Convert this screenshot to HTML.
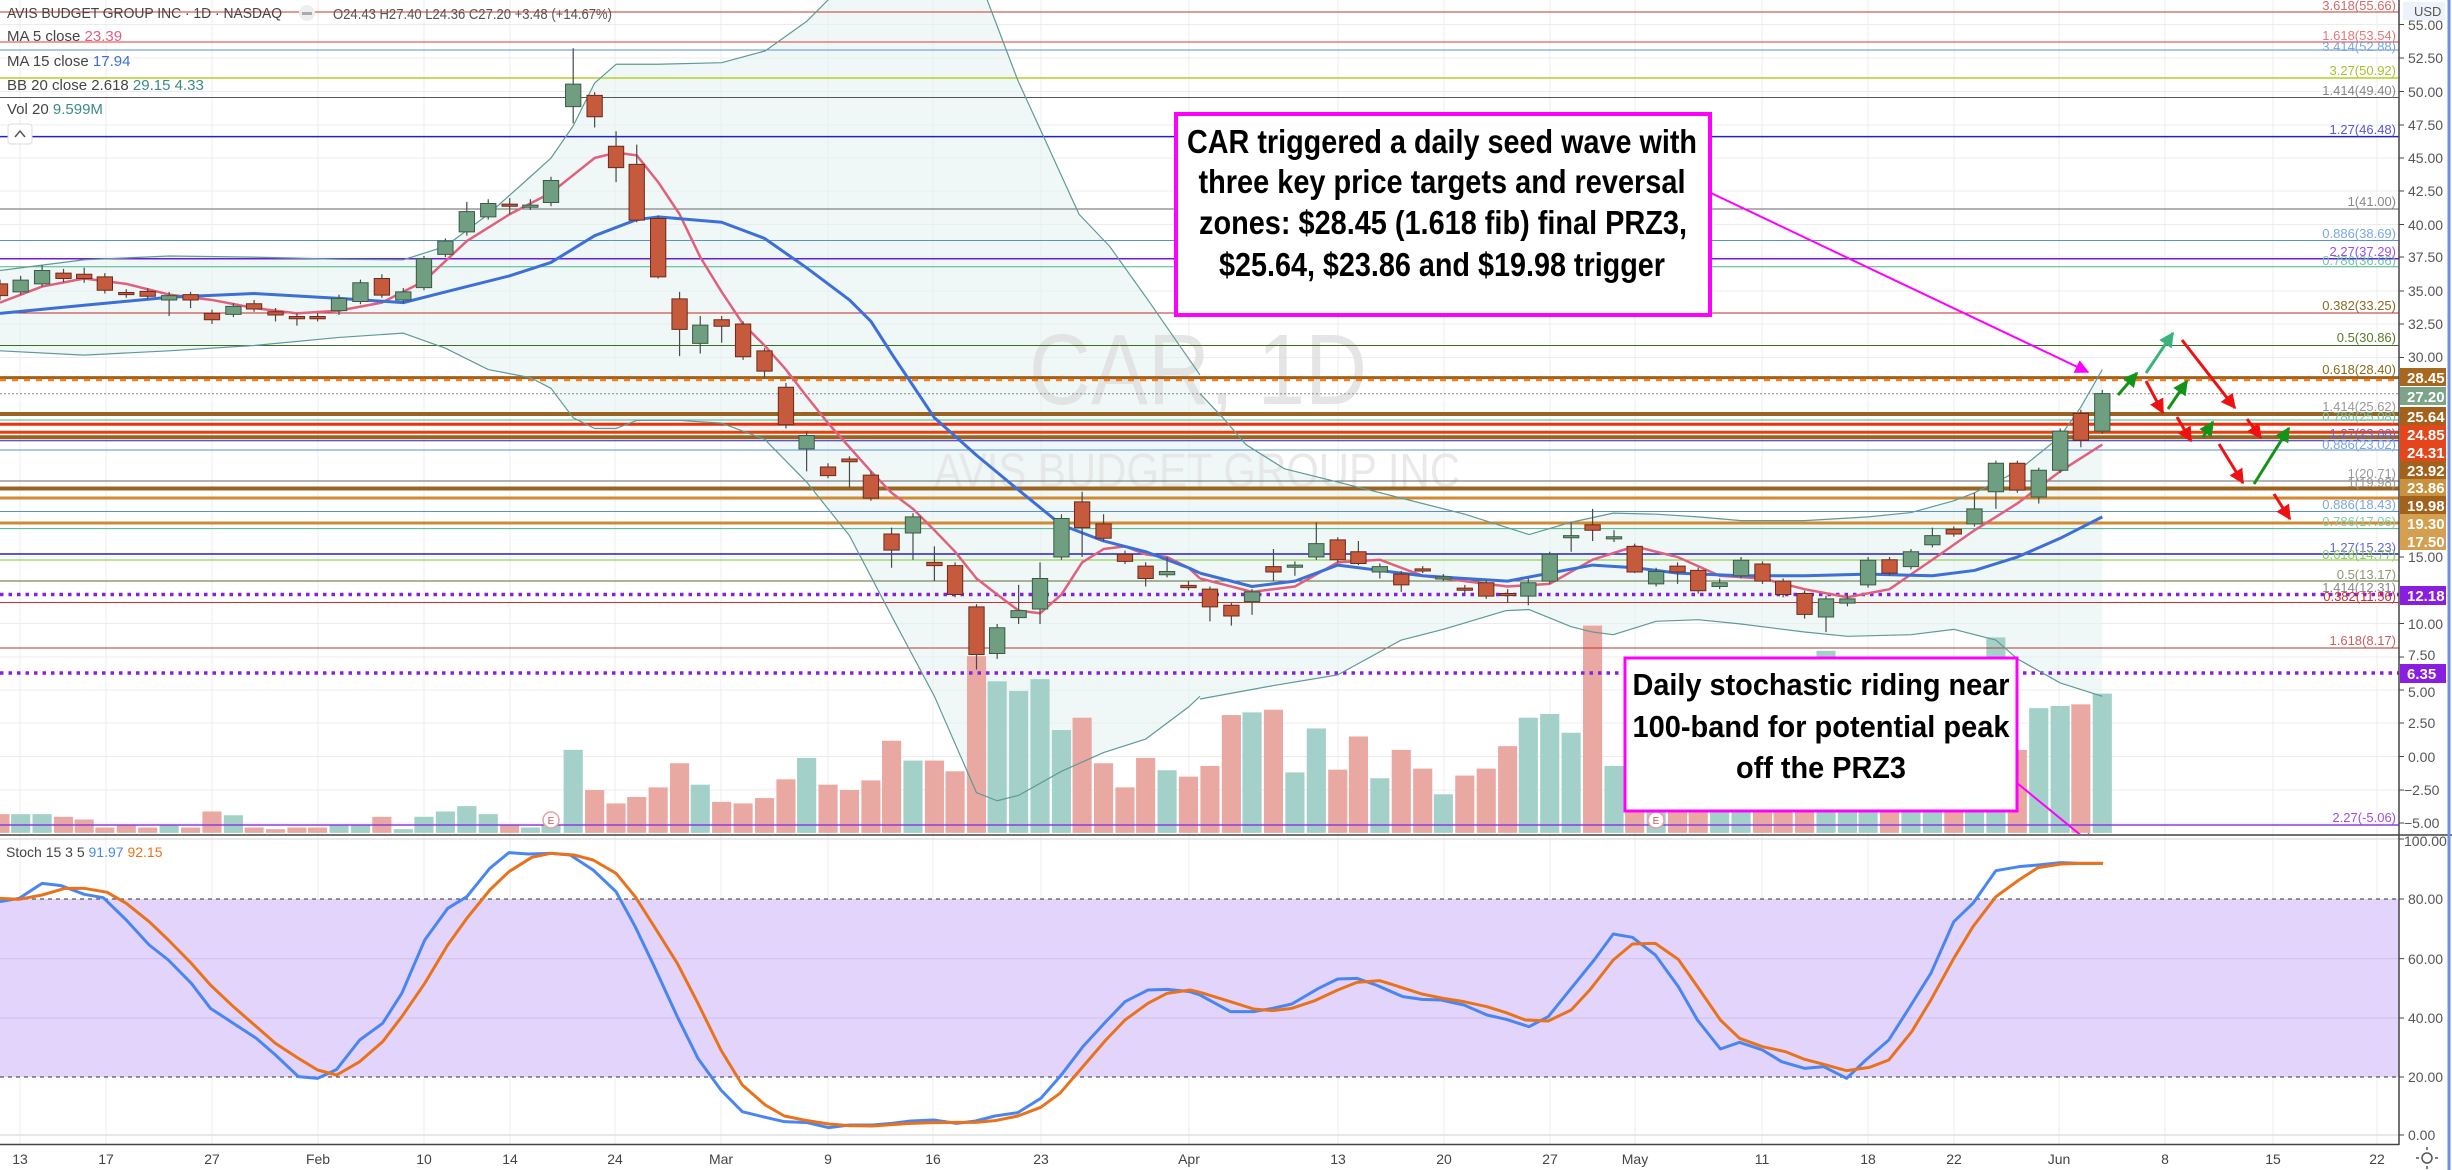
<!DOCTYPE html>
<html><head><meta charset="utf-8"><style>
html,body{margin:0;padding:0;background:#fff;}
svg{display:block;}
.ns *{vector-effect:non-scaling-stroke;}
text{font-family:"Liberation Sans",sans-serif;}
</style></head><body>
<svg width="2452" height="1170" viewBox="0 0 2452 1170" xmlns="http://www.w3.org/2000/svg">
<defs>
<clipPath id="pp"><rect x="0" y="0" width="2399" height="834"/></clipPath>
<clipPath id="sp"><rect x="0" y="836" width="2399" height="308"/></clipPath>
<marker id="mg" viewBox="0 0 10 10" refX="9" refY="5" markerWidth="5" markerHeight="5" orient="auto"><path d="M0,0L10,5L0,10z" fill="#139418"/></marker>
<marker id="ms" viewBox="0 0 10 10" refX="9" refY="5" markerWidth="5" markerHeight="5" orient="auto"><path d="M0,0L10,5L0,10z" fill="#3bb37a"/></marker>
<marker id="mr" viewBox="0 0 10 10" refX="9" refY="5" markerWidth="5" markerHeight="5" orient="auto"><path d="M0,0L10,5L0,10z" fill="#ee1111"/></marker>
<marker id="mm" viewBox="0 0 10 10" refX="9" refY="5" markerWidth="7" markerHeight="7" orient="auto"><path d="M0,0L10,5L0,10z" fill="#ff00ff"/></marker>
</defs>
<rect width="2452" height="1170" fill="#fff"/>

<g stroke="#ececec" stroke-width="1">
<path d="M20 0V1144M106 0V1144M212 0V1144M318 0V1144M424 0V1144M510 0V1144M615 0V1144M721 0V1144M828 0V1144M933 0V1144M1041 0V1144M1189 0V1144M1338 0V1144M1444 0V1144M1550 0V1144M1635 0V1144M1762 0V1144M1868 0V1144M1954 0V1144M2059 0V1144M2165 0V1144M2273 0V1144M2377 0V1144"/>
<path d="M0 24.5H2399M0 58H2399M0 91.5H2399M0 125H2399M0 158H2399M0 191H2399M0 224.5H2399M0 257H2399M0 291H2399M0 324H2399M0 357.5H2399M0 557H2399M0 623.5H2399M0 657H2399M0 690H2399M0 723H2399M0 756.5H2399M0 790H2399M0 823H2399"/>
</g>

<g clip-path="url(#sp)">
<rect x="0" y="899" width="2399" height="178" fill="#e3d4fb"/>
<path d="M0 958.6H2399M0 1018H2399" stroke="#d4c4ee" stroke-width="1.2"/>
<path d="M0 899H2399M0 1077H2399" stroke="#555" stroke-width="1.2" stroke-dasharray="4,4"/>
<path d="M0 1135H2399M0 839H2399" stroke="#e0e0e0" stroke-width="1.5"/>
<g class="ns" fill="none" stroke-linejoin="round">
<g transform="translate(0,830) scale(0.76529,0.33333)">
<polyline stroke="#4a86f0" stroke-width="3" points="0,215 25,205 55,160 80,167 110,193 135,203 165,270 195,345 220,390 250,460 275,535 305,580 335,625 360,675 390,740 415,745 440,718 470,630 500,580 525,490 555,330 585,235 610,200 640,115 665,68 690,72 720,70 745,75 775,120 805,185 830,290 855,410 885,560 912,685 942,780 970,845 1000,862 1025,875 1055,878 1083,893 1110,885 1140,885 1165,880 1190,873 1220,870 1250,880 1275,873 1300,858 1330,848 1360,805 1385,740 1415,650 1445,575 1470,515 1500,480 1525,478 1555,485 1568,495"/>
<polyline stroke="#e8731c" stroke-width="3" points="0,205 25,208 55,195 85,175 110,175 140,187 165,220 195,275 220,330 250,400 275,465 305,530 335,590 360,640 390,685 415,720 440,735 470,695 500,635 525,560 555,460 585,345 610,265 640,180 665,125 695,82 720,70 750,75 775,90 805,130 830,200 855,290 885,400 912,520 942,660 970,765 1000,825 1025,858 1055,872 1083,882 1110,887 1140,888 1165,884 1190,880 1220,878 1250,877 1275,877 1300,872 1330,858 1360,832 1385,790 1415,710 1445,630 1470,570 1500,520 1525,490 1555,480 1568,487"/>
</g>
<g transform="translate(1200,830) scale(0.76529,0.33333)">
<polyline stroke="#4a86f0" stroke-width="3" points="0,495 40,545 70,545 95,535 120,522 155,475 180,447 205,445 230,465 265,500 290,508 315,510 345,525 375,555 400,568 430,590 455,560 485,475 515,390 540,312 565,322 595,375 625,470 650,570 680,657 705,637 735,660 760,695 790,715 815,710 845,745 870,690 900,630 925,540 955,430 985,275 1010,220 1040,122 1070,110 1095,105 1125,98 1150,100 1180,100"/>
<polyline stroke="#e8731c" stroke-width="3" points="0,487 40,515 70,537 95,542 120,535 150,512 180,480 205,457 235,452 260,470 290,492 320,506 345,515 375,530 400,548 425,570 455,573 485,540 510,478 540,390 565,342 595,340 625,388 650,470 680,570 705,625 735,650 765,665 790,688 815,703 845,722 875,712 900,690 930,605 955,510 985,385 1010,290 1040,200 1070,150 1095,113 1125,102 1150,100 1180,100"/>
</g>
</g>
</g>
<text x="6" y="857" font-size="14" fill="#444">Stoch 15 3 5 <tspan fill="#4a86f0">91.97</tspan> <tspan fill="#e8731c">92.15</tspan></text>

<g clip-path="url(#pp)">
<!-- BB fill -->
<g transform="scale(0.76529,0.53562)">
<polygon fill="#e6f3f1" fill-opacity="0.6" points="0,505 55,495 110,485 221,478 332,480 443,484 527,485 582,460 638,400 693,330 720,295 749,235 777,155 805,120 860,120 943,117 1000,95 1054,40 1082,0 1150,-80 1250,-80 1290,0 1330,150 1410,400 1450,460 1500,560 1568,700 1568,1300 1553,1320 1497,1380 1442,1405 1387,1440 1331,1485 1303,1495 1276,1480 1221,1300 1165,1150 1110,1000 1054,900 999,820 943,790 888,785 832,785 805,800 777,800 749,780 720,725 693,705 638,690 582,650 527,622 443,630 332,645 221,655 110,663 0,655"/>
</g>
<g transform="translate(1200,0) scale(0.76529,0.53562)">
<polygon fill="#e6f3f1" fill-opacity="0.6" points="0,735 30,780 60,830 110,875 180,900 263,930 346,960 430,998 485,975 540,958 596,960 651,965 707,972 790,972 873,965 929,957 985,935 1012,920 1068,880 1124,815 1151,760 1179,690 1179,1300 1124,1275 1068,1230 1040,1195 985,1175 929,1185 846,1188 790,1180 707,1165 651,1157 596,1160 540,1185 513,1180 485,1170 430,1138 400,1140 318,1175 263,1195 180,1260 96,1280 0,1305"/>
</g>
<!-- volume -->
<g transform="scale(0.76529,0.53562)">
<g fill="#a3d0c8">
<rect x="14.5" y="1520" width="25" height="35"/><rect x="42.5" y="1520" width="25" height="35"/><rect x="208.5" y="1540" width="25" height="15"/><rect x="292.5" y="1522" width="25" height="33"/><rect x="430.5" y="1540" width="25" height="15"/><rect x="458.5" y="1540" width="25" height="15"/><rect x="514.5" y="1548" width="25" height="7"/><rect x="541.5" y="1525" width="25" height="30"/><rect x="569.5" y="1515" width="25" height="40"/><rect x="597.5" y="1505" width="25" height="50"/><rect x="625.5" y="1520" width="25" height="35"/><rect x="680.5" y="1545" width="25" height="10"/><rect x="707.5" y="1540" width="25" height="15"/><rect x="736.5" y="1400" width="25" height="155"/><rect x="902.5" y="1465" width="25" height="90"/><rect x="1041.5" y="1415" width="25" height="140"/><rect x="1180.5" y="1420" width="25" height="135"/><rect x="1290.5" y="1272" width="25" height="283"/><rect x="1318.5" y="1290" width="25" height="265"/><rect x="1346.5" y="1268" width="25" height="287"/><rect x="1374.5" y="1363" width="25" height="192"/><rect x="1512.5" y="1438" width="25" height="117"/>
</g>
<g fill="#eaa8a3">
<rect x="-12.5" y="1520" width="25" height="35"/><rect x="70.5" y="1525" width="25" height="30"/><rect x="97.5" y="1530" width="25" height="25"/><rect x="124.5" y="1545" width="25" height="10"/><rect x="152.5" y="1540" width="25" height="15"/><rect x="180.5" y="1545" width="25" height="10"/><rect x="236.5" y="1545" width="25" height="10"/><rect x="264.5" y="1515" width="25" height="40"/><rect x="319.5" y="1545" width="25" height="10"/><rect x="347.5" y="1548" width="25" height="7"/><rect x="375.5" y="1545" width="25" height="10"/><rect x="402.5" y="1545" width="25" height="10"/><rect x="486.5" y="1525" width="25" height="30"/><rect x="653.5" y="1540" width="25" height="15"/><rect x="764.5" y="1475" width="25" height="80"/><rect x="792.5" y="1500" width="25" height="55"/><rect x="819.5" y="1488" width="25" height="67"/><rect x="847.5" y="1470" width="25" height="85"/><rect x="875.5" y="1425" width="25" height="130"/><rect x="930.5" y="1497" width="25" height="58"/><rect x="958.5" y="1500" width="25" height="55"/><rect x="986.5" y="1490" width="25" height="65"/><rect x="1014.5" y="1455" width="25" height="100"/><rect x="1069.5" y="1465" width="25" height="90"/><rect x="1097.5" y="1475" width="25" height="80"/><rect x="1125.5" y="1457" width="25" height="98"/><rect x="1152.5" y="1383" width="25" height="172"/><rect x="1208.5" y="1420" width="25" height="135"/><rect x="1235.5" y="1440" width="25" height="115"/><rect x="1263.5" y="1225" width="25" height="330"/><rect x="1401.5" y="1340" width="25" height="215"/><rect x="1429.5" y="1425" width="25" height="130"/><rect x="1457.5" y="1470" width="25" height="85"/><rect x="1484.5" y="1415" width="25" height="140"/><rect x="1540.5" y="1450" width="25" height="105"/>
</g>
</g>
<g transform="translate(1200,0) scale(0.76529,0.53562)">
<g fill="#a3d0c8">
<rect x="55.5" y="1330" width="25" height="225"/><rect x="111.5" y="1442" width="25" height="113"/><rect x="139.5" y="1360" width="25" height="195"/><rect x="222.5" y="1453" width="25" height="102"/><rect x="305.5" y="1483" width="25" height="72"/><rect x="416.5" y="1340" width="25" height="215"/><rect x="444.5" y="1333" width="25" height="222"/><rect x="472.5" y="1368" width="25" height="187"/><rect x="528.5" y="1430" width="25" height="125"/><rect x="583.5" y="1440" width="25" height="115"/><rect x="666.5" y="1420" width="25" height="135"/><rect x="694.5" y="1440" width="25" height="115"/><rect x="805.5" y="1215" width="25" height="340"/><rect x="833.5" y="1400" width="25" height="155"/><rect x="860.5" y="1430" width="25" height="125"/><rect x="916.5" y="1400" width="25" height="155"/><rect x="944.5" y="1380" width="25" height="175"/><rect x="999.5" y="1350" width="25" height="205"/><rect x="1027.5" y="1190" width="25" height="365"/><rect x="1083.5" y="1322" width="25" height="233"/><rect x="1111.5" y="1318" width="25" height="237"/><rect x="1166.5" y="1295" width="25" height="260"/>
</g>
<g fill="#eaa8a3">
<rect x="0.5" y="1430" width="25" height="125"/><rect x="28.5" y="1335" width="25" height="220"/><rect x="83.5" y="1325" width="25" height="230"/><rect x="167.5" y="1437" width="25" height="118"/><rect x="194.5" y="1375" width="25" height="180"/><rect x="250.5" y="1400" width="25" height="155"/><rect x="278.5" y="1435" width="25" height="120"/><rect x="333.5" y="1448" width="25" height="107"/><rect x="361.5" y="1435" width="25" height="120"/><rect x="389.5" y="1393" width="25" height="162"/><rect x="500.5" y="1168" width="25" height="387"/><rect x="555.5" y="1450" width="25" height="105"/><rect x="611.5" y="1440" width="25" height="115"/><rect x="638.5" y="1430" width="25" height="125"/><rect x="722.5" y="1430" width="25" height="125"/><rect x="749.5" y="1450" width="25" height="105"/><rect x="777.5" y="1430" width="25" height="125"/><rect x="888.5" y="1420" width="25" height="135"/><rect x="972.5" y="1370" width="25" height="185"/><rect x="1055.5" y="1400" width="25" height="155"/><rect x="1138.5" y="1315" width="25" height="240"/>
</g>
</g>

<text x="1029" y="404" font-size="100" fill="#dedede" fill-opacity="0.8" textLength="338" lengthAdjust="spacingAndGlyphs">CAR, 1D</text>
<text x="934" y="487" font-size="48" fill="#e4e4e4" fill-opacity="0.8" textLength="526" lengthAdjust="spacingAndGlyphs">AVIS BUDGET GROUP INC</text>

<g fill="none">
<path d="M0 12H2399" stroke="#c0392b"/>
<path d="M0 42H2399" stroke="#e53935"/>
<path d="M0 50H2399" stroke="#5b8fd0"/>
<path d="M0 78H2399" stroke="#b5cf2a" stroke-width="1.5"/>
<path d="M0 97.5H2399" stroke="#555"/>
<path d="M0 136.6H2399" stroke="#2020c8" stroke-width="1.5"/>
<path d="M0 209H2399" stroke="#666"/>
<path d="M0 240.5H2399" stroke="#5b8fd0"/>
<path d="M0 258.7H2399" stroke="#6a1fd0" stroke-width="1.5"/>
<path d="M0 266.7H2399" stroke="#4db38a"/>
<path d="M0 313H2399" stroke="#c62828"/>
<path d="M0 345.5H2399" stroke="#3b6e22"/>
<path d="M0 377.6H2399" stroke="#a0601a" stroke-width="3"/>
<path d="M0 380H2399" stroke="#f08020" stroke-width="2.5" stroke-dasharray="6,6"/>
<path d="M0 393.7H2399" stroke="#888" stroke-dasharray="2,2"/>
<path d="M0 414H2399" stroke="#9a6420" stroke-width="4"/>
<path d="M0 420H2399" stroke="#4db38a"/>
<path d="M0 424.3H2399" stroke="#f0300a" stroke-width="3"/>
<path d="M0 432.3H2399" stroke="#e8400c" stroke-width="3"/>
<path d="M0 437.3H2399" stroke="#9a6420" stroke-width="4"/>
<path d="M0 440.7H2399" stroke="#2020c8"/>
<path d="M0 450H2399" stroke="#5b8fd0"/>
<path d="M0 481H2399" stroke="#666"/>
<path d="M0 488.5H2399" stroke="#9a6420" stroke-width="4"/>
<path d="M0 498H2399" stroke="#d08a30" stroke-width="3"/>
<path d="M0 511.5H2399" stroke="#5b8fd0"/>
<path d="M0 523H2399" stroke="#d08a30" stroke-width="3"/>
<path d="M0 528.6H2399" stroke="#4db38a"/>
<path d="M0 554H2399" stroke="#2020c8" stroke-width="1.5"/>
<path d="M0 560H2399" stroke="#7bc630"/>
<path d="M0 581H2399" stroke="#5a6a3a"/>
<path d="M0 594.5H2399" stroke="#8a1ee0" stroke-width="3.5" stroke-dasharray="3.5,5"/>
<path d="M0 602.5H2399" stroke="#d32f2f"/>
<path d="M0 648H2399" stroke="#b03a2e"/>
<path d="M0 673H2399" stroke="#8a1ee0" stroke-width="3.5" stroke-dasharray="3.5,5"/>
<path d="M0 825H2399" stroke="#8a3ee0" stroke-width="1.5"/>
</g>

<g class="ns" fill="none" stroke-linejoin="round">
<g transform="scale(0.76529,0.53562)">
<polyline stroke="#5e9a96" stroke-width="1.2" points="0,505 55,495 110,485 221,478 332,480 443,484 527,485 582,460 638,400 693,330 720,295 749,235 777,155 805,120 860,120 943,117 1000,95 1054,40 1082,0 1150,-80 1250,-80 1290,0 1330,150 1410,400 1450,460 1500,560 1568,700"/>
<polyline stroke="#5e9a96" stroke-width="1.2" points="0,655 110,663 221,655 332,645 443,630 527,622 582,650 638,690 693,705 720,725 749,780 777,800 805,800 832,785 888,785 943,790 999,820 1054,900 1110,1000 1165,1150 1221,1300 1276,1480 1303,1495 1331,1485 1387,1440 1442,1405 1497,1380 1553,1320 1568,1300"/>
<polyline stroke="#e0607e" stroke-width="2.5" points="0,565 55,535 110,520 165,530 221,550 277,560 332,575 388,585 443,580 499,565 554,525 610,450 666,400 720,360 777,295 805,285 832,290 860,340 888,400 915,480 943,545 971,605 999,645 1027,690 1054,740 1082,790 1110,835 1138,880 1165,920 1193,950 1221,990 1248,1030 1276,1080 1303,1110 1331,1140 1359,1145 1387,1110 1414,1050 1442,1025 1470,1020 1497,1035 1525,1040 1553,1060 1568,1080"/>
<polyline stroke="#3d6fd6" stroke-width="3" points="0,585 110,570 221,555 332,548 443,557 527,565 582,545 666,515 720,490 777,440 832,410 860,405 943,415 999,445 1054,500 1110,560 1138,600 1165,660 1221,780 1276,850 1331,915 1387,980 1442,1010 1497,1030 1553,1060 1568,1070"/>
</g>
<g transform="translate(1200,0) scale(0.76529,0.53562)">
<polyline stroke="#5e9a96" stroke-width="1.2" points="0,735 30,780 60,830 110,875 180,900 263,930 346,960 430,998 485,975 540,958 596,960 651,965 707,972 790,972 873,965 929,957 985,935 1012,920 1068,880 1124,815 1151,760 1179,690"/>
<polyline stroke="#5e9a96" stroke-width="1.2" points="0,1305 96,1280 180,1260 263,1195 318,1175 400,1140 430,1138 485,1170 513,1180 540,1185 596,1160 651,1157 707,1165 790,1180 846,1188 929,1185 985,1175 1040,1195 1068,1230 1124,1275 1179,1300"/>
<polyline stroke="#e0607e" stroke-width="2.5" points="0,1080 68,1105 124,1095 180,1050 235,1045 291,1075 346,1085 402,1095 457,1090 513,1045 568,1020 624,1040 679,1075 735,1080 790,1100 846,1115 901,1100 957,1045 1012,990 1068,940 1124,880 1179,830"/>
<polyline stroke="#3d6fd6" stroke-width="3" points="0,1070 68,1095 124,1085 180,1055 235,1065 291,1075 346,1080 402,1085 457,1070 513,1055 568,1060 624,1070 707,1075 790,1075 873,1072 957,1075 1012,1065 1068,1040 1124,1005 1179,965"/>
</g>
</g>

<g class="ns">
<g transform="scale(0.76529,0.53562)">
<path stroke="#4a4a4a" stroke-width="1.2" fill="none" d="M0 522V560 M27 515V550 M55 495V535 M83 502V527 M110 500V528 M137 510V548 M165 540V556 M193 538V558 M221 545V590 M249 545V575 M277 578V605 M305 566V592 M332 560V582 M360 575V600 M388 585V608 M415 585V600 M443 550V588 M471 522V568 M499 512V556 M527 538V566 M554 478V542 M582 445V480 M610 377V440 M638 372V410 M666 370V400 M693 372V392 M720 330V385 M749 90V230 M777 172V238 M805 245V340 M832 270V415 M860 402V520 M888 545V665 M915 590V660 M943 590V640 M971 600V672 M999 650V705 M1027 715V800 M1054 805V880 M1082 865V893 M1110 852V910 M1138 880V935 M1165 985V1060 M1193 958V1045 M1221 1020V1085 M1248 1050V1115 M1276 1128V1250 M1303 1165V1230 M1331 1092V1165 M1359 1050V1165 M1387 960V1045 M1414 918V1040 M1442 960V1010 M1470 1028V1053 M1497 1050V1095 M1525 1040V1078 M1553 1085V1102"/>
<g fill="#6f9f80" stroke="#3a5a44" stroke-width="1">
<rect x="17" y="523" width="20" height="22"/><rect x="45" y="505" width="20" height="25"/><rect x="211" y="552" width="20" height="8"/><rect x="295" y="572" width="20" height="15"/><rect x="433" y="557" width="20" height="23"/><rect x="461" y="528" width="20" height="35"/><rect x="517" y="545" width="20" height="15"/><rect x="544" y="483" width="20" height="54"/><rect x="572" y="450" width="20" height="25"/><rect x="600" y="395" width="20" height="38"/><rect x="628" y="380" width="20" height="25"/><rect x="683" y="383" width="20" height="4"/><rect x="710" y="337" width="20" height="41"/><rect x="739" y="157" width="20" height="42"/><rect x="905" y="607" width="20" height="34"/><rect x="1044" y="813" width="20" height="25"/><rect x="1183" y="965" width="20" height="30"/><rect x="1293" y="1172" width="20" height="48"/><rect x="1321" y="1140" width="20" height="13"/><rect x="1349" y="1080" width="20" height="57"/><rect x="1377" y="968" width="20" height="72"/><rect x="1515" y="1067" width="20" height="6"/>
</g>
<g fill="#c55a3c" stroke="#6e2a1c" stroke-width="1">
<rect x="-10" y="530" width="20" height="22"/><rect x="73" y="510" width="20" height="10"/><rect x="100" y="512" width="20" height="8"/><rect x="127" y="517" width="20" height="25"/><rect x="155" y="546" width="20" height="4"/><rect x="183" y="544" width="20" height="9"/><rect x="239" y="550" width="20" height="10"/><rect x="267" y="585" width="20" height="12"/><rect x="322" y="567" width="20" height="10"/><rect x="350" y="582" width="20" height="6"/><rect x="378" y="591" width="20" height="4"/><rect x="405" y="591" width="20" height="4"/><rect x="489" y="520" width="20" height="31"/><rect x="656" y="381" width="20" height="4"/><rect x="767" y="178" width="20" height="40"/><rect x="795" y="273" width="20" height="40"/><rect x="822" y="307" width="20" height="104"/><rect x="850" y="408" width="20" height="109"/><rect x="878" y="558" width="20" height="57"/><rect x="933" y="597" width="20" height="12"/><rect x="961" y="605" width="20" height="61"/><rect x="989" y="655" width="20" height="38"/><rect x="1017" y="723" width="20" height="70"/><rect x="1072" y="872" width="20" height="16"/><rect x="1100" y="857" width="20" height="5"/><rect x="1128" y="887" width="20" height="43"/><rect x="1155" y="997" width="20" height="30"/><rect x="1211" y="1050" width="20" height="6"/><rect x="1238" y="1056" width="20" height="54"/><rect x="1266" y="1133" width="20" height="89"/><rect x="1404" y="937" width="20" height="48"/><rect x="1432" y="978" width="20" height="27"/><rect x="1460" y="1035" width="20" height="13"/><rect x="1487" y="1057" width="20" height="23"/><rect x="1543" y="1093" width="20" height="4"/>
</g>
</g>
<g transform="translate(1200,0) scale(0.76529,0.53562)">
<path stroke="#4a4a4a" stroke-width="1.2" fill="none" d="M13 1095V1160 M41 1125V1168 M68 1100V1148 M96 1025V1085 M124 1048V1075 M152 975V1045 M180 1003V1050 M207 1010V1055 M235 1052V1080 M263 1066V1105 M291 1057V1070 M318 1072V1085 M346 1092V1108 M374 1083V1118 M402 1100V1125 M429 1080V1130 M457 1030V1090 M485 975V1030 M513 950V1010 M541 990V1012 M568 1015V1070 M596 1060V1095 M624 1050V1090 M651 1060V1108 M679 1080V1100 M707 1040V1080 M735 1048V1090 M762 1080V1115 M790 1103V1155 M818 1112V1180 M846 1110V1132 M873 1040V1097 M901 1040V1075 M929 1025V1063 M957 985V1022 M985 983V1002 M1012 920V983 M1040 860V950 M1068 860V920 M1096 873V940 M1124 800V883 M1151 765V835 M1179 728V810"/>
<g fill="#6f9f80" stroke="#3a5a44" stroke-width="1">
<rect x="58" y="1105" width="20" height="18"/><rect x="114" y="1055" width="20" height="4"/><rect x="142" y="1015" width="20" height="25"/><rect x="225" y="1058" width="20" height="10"/><rect x="308" y="1077" width="20" height="4"/><rect x="419" y="1088" width="20" height="25"/><rect x="447" y="1035" width="20" height="50"/><rect x="475" y="1000" width="20" height="4"/><rect x="531" y="1002" width="20" height="4"/><rect x="586" y="1067" width="20" height="23"/><rect x="669" y="1088" width="20" height="7"/><rect x="697" y="1046" width="20" height="29"/><rect x="808" y="1118" width="20" height="34"/><rect x="836" y="1118" width="20" height="8"/><rect x="863" y="1046" width="20" height="46"/><rect x="919" y="1030" width="20" height="28"/><rect x="947" y="1000" width="20" height="17"/><rect x="1002" y="950" width="20" height="28"/><rect x="1030" y="865" width="20" height="53"/><rect x="1086" y="878" width="20" height="50"/><rect x="1114" y="805" width="20" height="73"/><rect x="1169" y="735" width="20" height="70"/>
</g>
<g fill="#c55a3c" stroke="#6e2a1c" stroke-width="1">
<rect x="3" y="1100" width="20" height="33"/><rect x="31" y="1130" width="20" height="20"/><rect x="86" y="1058" width="20" height="10"/><rect x="170" y="1008" width="20" height="37"/><rect x="197" y="1030" width="20" height="22"/><rect x="253" y="1072" width="20" height="20"/><rect x="281" y="1062" width="20" height="4"/><rect x="336" y="1098" width="20" height="4"/><rect x="364" y="1088" width="20" height="25"/><rect x="392" y="1108" width="20" height="4"/><rect x="503" y="980" width="20" height="10"/><rect x="558" y="1020" width="20" height="48"/><rect x="614" y="1057" width="20" height="11"/><rect x="641" y="1065" width="20" height="38"/><rect x="725" y="1053" width="20" height="32"/><rect x="752" y="1085" width="20" height="25"/><rect x="780" y="1108" width="20" height="39"/><rect x="891" y="1045" width="20" height="25"/><rect x="975" y="988" width="20" height="9"/><rect x="1058" y="865" width="20" height="50"/><rect x="1141" y="772" width="20" height="50"/>
</g>
</g>
</g>

<g font-size="10" text-anchor="middle" fill="#c55">
<circle cx="551" cy="820" r="8" fill="#fff" stroke="#e8a0a0" stroke-width="1.5"/><text x="551" y="824">E</text>
<circle cx="1656" cy="820" r="8" fill="#fff" stroke="#e8a0a0" stroke-width="1.5"/><text x="1656" y="824">E</text>
</g>

<g font-size="13" text-anchor="end">
<text x="2396" y="10" fill="#d46a6a">3.618(55.66)</text>
<text x="2396" y="40" fill="#e07a7a">1.618(53.54)</text>
<text x="2396" y="51" fill="#7aa7e0">3.414(52.88)</text>
<text x="2396" y="75" fill="#a8c030">3.27(50.92)</text>
<text x="2396" y="95" fill="#888">1.414(49.40)</text>
<text x="2396" y="134" fill="#5555dd">1.27(46.48)</text>
<text x="2396" y="206" fill="#888">1(41.00)</text>
<text x="2396" y="238" fill="#7aa7e0">0.886(38.69)</text>
<text x="2396" y="256" fill="#9b4fe8">2.27(37.29)</text>
<text x="2396" y="265" fill="#6cc8a8">0.786(36.66)</text>
<text x="2396" y="310" fill="#8a6a20">0.382(33.25)</text>
<text x="2396" y="342" fill="#5a7a2a">0.5(30.86)</text>
<text x="2396" y="374" fill="#8a6a20">0.618(28.40)</text>
<text x="2396" y="411" fill="#999">1.414(25.62)</text>
<text x="2396" y="421" fill="#6cc8a8">0.786(25.08)</text>
<text x="2396" y="438" fill="#6666dd">1.27(23.66)</text>
<text x="2396" y="449" fill="#7aa7e0">0.886(23.02)</text>
<text x="2396" y="478" fill="#999">1(20.71)</text>
<text x="2396" y="487" fill="#999">1(19.98)</text>
<text x="2396" y="509" fill="#7aa7e0">0.886(18.43)</text>
<text x="2396" y="526" fill="#7fcfae">0.786(17.06)</text>
<text x="2396" y="552" fill="#6666dd">1.27(15.23)</text>
<text x="2396" y="559" fill="#8fce50">0.618(14.77)</text>
<text x="2396" y="579" fill="#8a9a70">0.5(13.17)</text>
<text x="2396" y="592" fill="#888">1.414(12.31)</text>
<text x="2396" y="601" fill="#cc3333">0.382(11.56)</text>
<text x="2396" y="645" fill="#c86060">1.618(8.17)</text>
<text x="2396" y="822" fill="#9b4fe8">2.27(-5.06)</text>
</g>

<line x1="1711" y1="193" x2="2088" y2="372" stroke="#ff00ff" stroke-width="2" marker-end="url(#mm)"/>
<line x1="2017" y1="783" x2="2094" y2="846" stroke="#ff00ff" stroke-width="2" marker-end="url(#mm)"/>
<rect x="1176" y="114" width="534" height="201" fill="#fff" stroke="#ff00ff" stroke-width="4"/>
<g font-weight="bold" font-size="33" fill="#000" text-anchor="middle">
<text x="1442" y="153" textLength="510" lengthAdjust="spacingAndGlyphs">CAR triggered a daily seed wave with</text>
<text x="1442" y="193" textLength="487" lengthAdjust="spacingAndGlyphs">three key price targets and reversal</text>
<text x="1443" y="234" textLength="488" lengthAdjust="spacingAndGlyphs">zones: $28.45 (1.618 fib) final PRZ3,</text>
<text x="1442" y="276" textLength="446" lengthAdjust="spacingAndGlyphs">$25.64, $23.86 and $19.98 trigger</text>
</g>
<rect x="1625" y="658" width="392" height="153" fill="#fff" stroke="#ff00ff" stroke-width="3"/>
<g font-weight="bold" font-size="31" fill="#000" text-anchor="middle">
<text x="1821" y="695" textLength="377" lengthAdjust="spacingAndGlyphs">Daily stochastic riding near</text>
<text x="1821" y="737" textLength="377" lengthAdjust="spacingAndGlyphs">100-band for potential peak</text>
<text x="1821" y="778" textLength="170" lengthAdjust="spacingAndGlyphs">off the PRZ3</text>
</g>

<g stroke-width="3" fill="none">
<line x1="2118" y1="395" x2="2137" y2="373" stroke="#139418" marker-end="url(#mg)"/>
<line x1="2146" y1="373" x2="2173" y2="333" stroke="#3bb37a" marker-end="url(#ms)"/>
<line x1="2146" y1="381" x2="2163" y2="413" stroke="#ee1111" marker-end="url(#mr)"/>
<line x1="2168" y1="409" x2="2187" y2="381" stroke="#139418" marker-end="url(#mg)"/>
<line x1="2182" y1="340" x2="2235" y2="408" stroke="#ee1111" marker-end="url(#mr)"/>
<line x1="2177" y1="417" x2="2191" y2="441" stroke="#ee1111" marker-end="url(#mr)"/>
<line x1="2203" y1="437" x2="2213" y2="422" stroke="#139418" marker-end="url(#mg)"/>
<line x1="2247" y1="419" x2="2261" y2="438" stroke="#ee1111" marker-end="url(#mr)"/>
<line x1="2219" y1="444" x2="2243" y2="483" stroke="#ee1111" marker-end="url(#mr)"/>
<line x1="2254" y1="484" x2="2289" y2="428" stroke="#139418" marker-end="url(#mg)"/>
<line x1="2274" y1="494" x2="2290" y2="519" stroke="#ee1111" marker-end="url(#mr)"/>
</g>
</g>

<g font-size="15" fill="#444">
<text x="7" y="18" textLength="275" lengthAdjust="spacingAndGlyphs">AVIS BUDGET GROUP INC · 1D · NASDAQ</text>
<circle cx="307" cy="13" r="8" fill="#eee"/><rect x="302" y="12" width="10" height="3" fill="#aaa"/>
<text x="333" y="19" textLength="279" lengthAdjust="spacingAndGlyphs" fill="#555">O24.43 H27.40 L24.36 C27.20 +3.48 (+14.67%)</text>
<text x="7" y="41">MA 5 close <tspan fill="#e0607e">23.39</tspan></text>
<text x="7" y="66">MA 15 close <tspan fill="#3d6fd6">17.94</tspan></text>
<text x="7" y="90">BB 20 close 2.618 <tspan fill="#3c8a8a">29.15</tspan> <tspan fill="#3c8a8a">4.33</tspan></text>
<text x="7" y="114">Vol 20 <tspan fill="#3c8a8a">9.599M</tspan></text>
</g>
<rect x="8" y="124" width="24" height="20" rx="3" fill="#fff" stroke="#ddd"/>
<path d="M15 137L20 131L25 137" stroke="#555" stroke-width="1.5" fill="none"/>

<rect x="2400" y="0" width="52" height="1170" fill="#fff"/>
<path d="M2399 0V1145M0 1144.5H2399M0 835H2452" stroke="#444" stroke-width="1.5"/>
<path d="M2449 0V1170" stroke="#6f8fe8" stroke-width="3"/>
<g stroke="#444" stroke-width="1"><path d="M2399 24.5h5M2399 58h5M2399 91.5h5M2399 125h5M2399 158h5M2399 191h5M2399 224.5h5M2399 257h5M2399 291h5M2399 324h5M2399 357.5h5M2399 557h5M2399 623.5h5M2399 657h5M2399 690h5M2399 723h5M2399 756.5h5M2399 790h5M2399 823h5M2399 839h5M2399 899h5M2399 958.6h5M2399 1018h5M2399 1077h5M2399 1135h5"/></g>
<g font-size="14" fill="#555">
<text x="2408" y="30">55.00</text><text x="2408" y="63">52.50</text><text x="2408" y="97">50.00</text><text x="2408" y="130">47.50</text><text x="2408" y="163">45.00</text><text x="2408" y="196">42.50</text><text x="2408" y="230">40.00</text><text x="2408" y="262">37.50</text><text x="2408" y="296">35.00</text><text x="2408" y="329">32.50</text><text x="2408" y="362">30.00</text><text x="2408" y="562">15.00</text><text x="2408" y="629">10.00</text><text x="2408" y="660">7.50</text><text x="2408" y="697">5.00</text><text x="2408" y="728">2.50</text><text x="2408" y="762">0.00</text><text x="2404" y="795">−2.50</text><text x="2404" y="828">−5.00</text>
<text x="2404" y="846">100.00</text><text x="2408" y="904">80.00</text><text x="2408" y="964">60.00</text><text x="2408" y="1023">40.00</text><text x="2408" y="1082">20.00</text><text x="2408" y="1140">0.00</text>
</g>
<rect x="2403" y="2" width="42" height="18" fill="#eef2fa"/>
<text x="2414" y="16" font-size="13" fill="#555">USD</text>
<g font-size="15" font-weight="bold" fill="#fff">
<rect x="2400" y="368" width="46" height="18" fill="#a8671e"/><text x="2407" y="383">28.45</text>
<rect x="2400" y="387" width="46" height="18" fill="#7da38a"/><text x="2407" y="402">27.20</text>
<rect x="2400" y="407" width="46" height="18" fill="#a3621c"/><text x="2407" y="422">25.64</text>
<rect x="2400" y="425" width="46" height="18" fill="#e2461a"/><text x="2407" y="440">24.85</text>
<rect x="2400" y="443" width="46" height="18" fill="#e2461a"/><text x="2407" y="458">24.31</text>
<rect x="2400" y="461" width="46" height="18" fill="#a3621c"/><text x="2407" y="476">23.92</text>
<rect x="2400" y="479" width="46" height="17" fill="#c8923f"/><text x="2407" y="493">23.86</text>
<rect x="2400" y="496" width="46" height="18" fill="#a3621c"/><text x="2407" y="511">19.98</text>
<rect x="2400" y="514" width="46" height="18" fill="#d4a050"/><text x="2407" y="529">19.30</text>
<rect x="2400" y="532" width="46" height="18" fill="#d4a050"/><text x="2407" y="547">17.50</text>
<rect x="2400" y="586" width="46" height="19" fill="#8a1ee0"/><text x="2407" y="601">12.18</text>
<rect x="2400" y="664" width="46" height="19" fill="#8a1ee0"/><text x="2407" y="679">6.35</text>
</g>
<g font-size="14" fill="#444" text-anchor="middle">
<text x="20" y="1164">13</text><text x="106" y="1164">17</text><text x="212" y="1164">27</text><text x="318" y="1164">Feb</text><text x="424" y="1164">10</text><text x="510" y="1164">14</text><text x="615" y="1164">24</text><text x="721" y="1164">Mar</text><text x="828" y="1164">9</text><text x="933" y="1164">16</text><text x="1041" y="1164">23</text><text x="1189" y="1164">Apr</text><text x="1338" y="1164">13</text><text x="1444" y="1164">20</text><text x="1550" y="1164">27</text><text x="1635" y="1164">May</text><text x="1762" y="1164">11</text><text x="1868" y="1164">18</text><text x="1954" y="1164">22</text><text x="2059" y="1164">Jun</text><text x="2165" y="1164">8</text><text x="2273" y="1164">15</text><text x="2377" y="1164">22</text>
</g>
<circle cx="2427" cy="1158" r="5" fill="none" stroke="#555" stroke-width="1.5"/>
<path d="M2427 1150v-3M2427 1166v3M2419 1158h-3M2435 1158h3" stroke="#555" stroke-width="1.5"/>
</svg>
</body></html>
